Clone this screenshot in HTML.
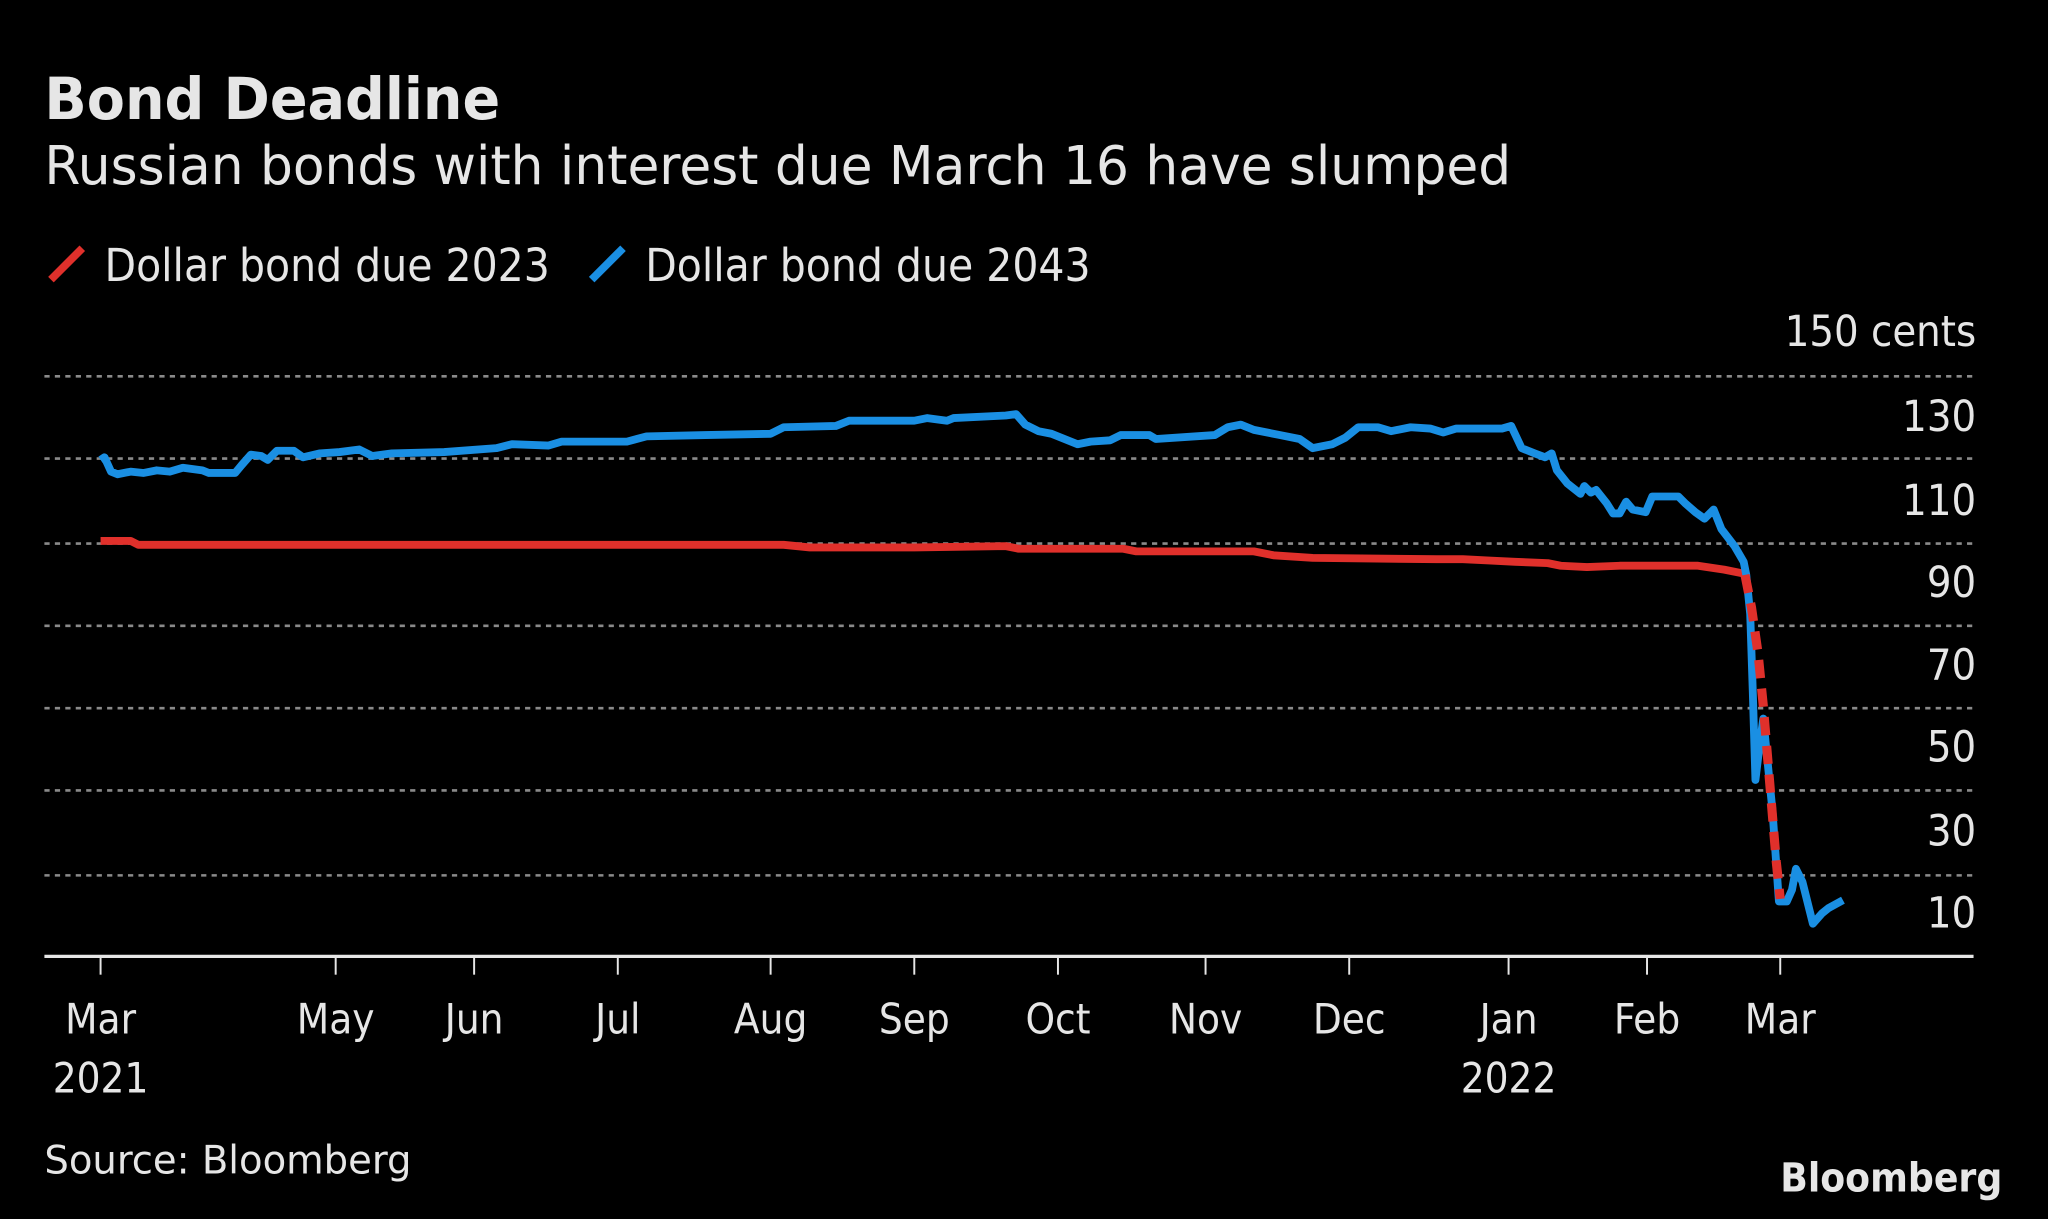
<!DOCTYPE html>
<html><head><meta charset="utf-8"><style>
html,body{margin:0;padding:0;background:#000;}
svg{display:block;}
text{font-family:"DejaVu Sans Condensed","DejaVu Sans","Liberation Sans",sans-serif;fill:#e6e6e6;}
</style></head><body>
<svg width="2048" height="1219" viewBox="0 0 1568 933" preserveAspectRatio="none" xmlns="http://www.w3.org/2000/svg">
<rect width="1568" height="933" fill="#000"/>
<text x="34" y="91" font-size="44" font-weight="bold" fill="#fff" textLength="349" lengthAdjust="spacingAndGlyphs">Bond Deadline</text>
<text x="34" y="141" font-size="41" fill="#fff" textLength="1123" lengthAdjust="spacingAndGlyphs">Russian bonds with interest due March 16 have slumped</text>
<line x1="39" y1="214" x2="63" y2="190" stroke="#e0302b" stroke-width="6"/>
<text x="80" y="215" font-size="35" textLength="341" lengthAdjust="spacingAndGlyphs">Dollar bond due 2023</text>
<line x1="453" y1="214" x2="477" y2="190" stroke="#1a8fe3" stroke-width="6"/>
<text x="494" y="215" font-size="35" textLength="341" lengthAdjust="spacingAndGlyphs">Dollar bond due 2043</text>
<text x="1513" y="265" font-size="33" text-anchor="end">150 cents</text>
<g stroke="#8a8a8a" stroke-width="2" stroke-dasharray="4 4">
<line x1="34" y1="288" x2="1513" y2="288"/><line x1="34" y1="351" x2="1513" y2="351"/>
<line x1="34" y1="416" x2="1513" y2="416"/><line x1="34" y1="479" x2="1513" y2="479"/>
<line x1="34" y1="542" x2="1513" y2="542"/><line x1="34" y1="605" x2="1513" y2="605"/>
<line x1="34" y1="670" x2="1513" y2="670"/>
</g>
<g font-size="33" text-anchor="end">
<text x="1513" y="330">130</text><text x="1513" y="394">110</text><text x="1513" y="457">90</text>
<text x="1513" y="520">70</text><text x="1513" y="583">50</text><text x="1513" y="647">30</text><text x="1513" y="710">10</text>
</g>
<line x1="34" y1="732" x2="1511" y2="732" stroke="#e6e6e6" stroke-width="2.5"/>
<g stroke="#e6e6e6" stroke-width="1.5">
<line x1="77" y1="732" x2="77" y2="746"/><line x1="257" y1="732" x2="257" y2="746"/>
<line x1="363" y1="732" x2="363" y2="746"/><line x1="473" y1="732" x2="473" y2="746"/>
<line x1="590" y1="732" x2="590" y2="746"/><line x1="700" y1="732" x2="700" y2="746"/>
<line x1="810" y1="732" x2="810" y2="746"/><line x1="923" y1="732" x2="923" y2="746"/>
<line x1="1033" y1="732" x2="1033" y2="746"/><line x1="1155" y1="732" x2="1155" y2="746"/>
<line x1="1261" y1="732" x2="1261" y2="746"/><line x1="1363" y1="732" x2="1363" y2="746"/>
</g>
<g font-size="32" text-anchor="middle">
<text x="77" y="791">Mar</text><text x="257" y="791">May</text><text x="363" y="791">Jun</text>
<text x="473" y="791">Jul</text><text x="590" y="791">Aug</text><text x="700" y="791">Sep</text>
<text x="810" y="791">Oct</text><text x="923" y="791">Nov</text><text x="1033" y="791">Dec</text>
<text x="1155" y="791">Jan</text><text x="1261" y="791">Feb</text><text x="1363" y="791">Mar</text>
<text x="77" y="836">2021</text><text x="1155" y="836">2022</text>
</g>
<text x="34" y="898" font-size="30" textLength="281" lengthAdjust="spacingAndGlyphs">Source: Bloomberg</text>
<text x="1533" y="912" font-size="31" font-weight="bold" text-anchor="end" textLength="170" lengthAdjust="spacingAndGlyphs">Bloomberg</text>
<polyline fill="none" stroke="#e0302b" stroke-width="6" stroke-linejoin="round" points="77,414 100,414 106,417 600,417 620,419 700,419 770,418 780,420 860,420 870,422 960,422 975,425 1005,427 1100,428 1120,428 1140,429 1160,430 1185,431 1195,433 1215,434 1240,433 1300,433 1320,436 1335,439"/>
<polyline fill="none" stroke="#1a8fe3" stroke-width="6" stroke-linejoin="round" points="77,352 80,350 85,361 90,363 100,361 110,362 120,360 130,361 140,358 155,360 160,362 180,362 185,356 192,348 200,349 205,352 212,345 225,345 232,350 245,347 260,346 275,344 285,349 300,347 340,346 380,343 392,340 420,341 430,338 480,338 495,334 540,333 590,332 600,327 640,326 650,322 700,322 710,320 725,322 730,320 770,318 778,317 785,325 795,330 805,332 815,336 825,340 835,338 850,337 858,333 880,333 885,336 930,333 940,327 950,325 960,329 980,333 995,336 1005,343 1020,340 1030,335 1040,327 1055,327 1065,330 1080,327 1095,328 1105,331 1115,328 1150,328 1157,326 1165,343 1175,347 1183,350 1188,347 1192,360 1200,370 1210,378 1213,372 1218,377 1222,375 1230,385 1235,393 1240,393 1245,384 1250,390 1260,392 1265,380 1285,380 1290,385 1298,392 1305,397 1312,390 1318,405 1328,418 1335,430 1337,440 1340,470 1342,530 1344,597 1347,572 1350,550 1353,580 1357,620 1362,690 1368,690 1372,681 1375,665 1380,675 1385,695 1388,707 1395,699 1400,695 1411,689"/>
<polyline fill="none" stroke="#e0302b" stroke-width="7" stroke-dasharray="14 8" points="1336,440 1341,465 1346,500 1350,540 1355,600 1360,660 1363,688"/>
</svg>
</body></html>
